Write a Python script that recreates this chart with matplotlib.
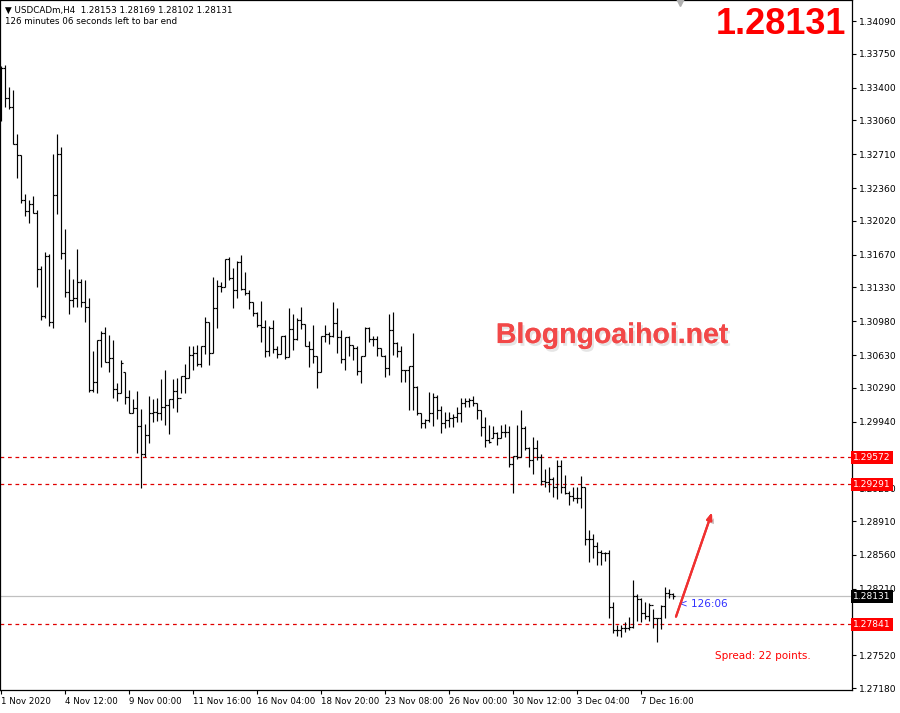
import matplotlib
matplotlib.use("Agg")
import matplotlib.pyplot as plt
import matplotlib.patheffects as pe
import numpy as np

# H4 bars of USDCADm, 1 Nov 2020 - 8 Dec 2020
open_ = [1.3312, 1.3360, 1.3329, 1.3320, 1.3282, 1.3270, 1.3224, 1.3212, 1.3219, 1.3210,
         1.3152, 1.3103, 1.3166, 1.3097, 1.3229, 1.3271, 1.3169, 1.3128, 1.3120, 1.3122,
         1.3139, 1.3118, 1.3113, 1.3027, 1.3035, 1.3079, 1.3086, 1.3056, 1.3060, 1.3028,
         1.3024, 1.3045, 1.3020, 1.3003, 1.3008, 1.2990, 1.2961, 1.2980, 1.3003, 1.3004,
         1.3003, 1.3009, 1.3011, 1.3017, 1.3026, 1.3018, 1.3041, 1.3039, 1.3063, 1.3065,
         1.3054, 1.3072, 1.3097, 1.3065, 1.3112, 1.3135, 1.3133, 1.3162, 1.3143, 1.3130,
         1.3159, 1.3131, 1.3127, 1.3118, 1.3107, 1.3094, 1.3092, 1.3067, 1.3091, 1.3069,
         1.3064, 1.3083, 1.3061, 1.3090, 1.3080, 1.3099, 1.3095, 1.3072, 1.3069, 1.3062,
         1.3045, 1.3083, 1.3085, 1.3083, 1.3096, 1.3082, 1.3059, 1.3082, 1.3073, 1.3070,
         1.3046, 1.3062, 1.3091, 1.3080, 1.3080, 1.3070, 1.3062, 1.3050, 1.3089, 1.3075,
         1.3067, 1.3047, 1.3047, 1.3052, 1.3030, 1.3003, 1.2993, 1.2996, 1.3003, 1.3020,
         1.3006, 1.2993, 1.2996, 1.2998, 1.2999, 1.3003, 1.3013, 1.3015, 1.3016, 1.3013,
         1.3006, 1.2988, 1.2975, 1.2977, 1.2982, 1.2977, 1.2983, 1.2983, 1.2950, 1.2958,
         1.2957, 1.2987, 1.2967, 1.2954, 1.2967, 1.2957, 1.2932, 1.2931, 1.2935, 1.2926,
         1.2948, 1.2926, 1.2920, 1.2917, 1.2915, 1.2915, 1.2926, 1.2872, 1.2872, 1.2865,
         1.2859, 1.2858, 1.2858, 1.2802, 1.2778, 1.2778, 1.2780, 1.2780, 1.2781, 1.2813,
         1.2810, 1.2796, 1.2793, 1.2804, 1.2791, 1.2791, 1.2803, 1.2817, 1.28153]

high = [1.3362, 1.3363, 1.3341, 1.3338, 1.3292, 1.3270, 1.3230, 1.3224, 1.3228, 1.3213,
        1.3155, 1.3170, 1.3168, 1.3271, 1.3292, 1.3278, 1.3194, 1.3152, 1.3142, 1.3173,
        1.3142, 1.3141, 1.3122, 1.3067, 1.3079, 1.3088, 1.3092, 1.3084, 1.3079, 1.3034,
        1.3058, 1.3045, 1.3027, 1.3017, 1.3026, 1.3007, 1.2992, 1.3021, 1.3017, 1.3018,
        1.3038, 1.3047, 1.3017, 1.3038, 1.3039, 1.3041, 1.3054, 1.3072, 1.3072, 1.3073,
        1.3072, 1.3102, 1.3097, 1.3144, 1.3141, 1.3139, 1.3163, 1.3165, 1.3153, 1.3160,
        1.3167, 1.3149, 1.3130, 1.3118, 1.3108, 1.3119, 1.3099, 1.3093, 1.3099, 1.3072,
        1.3083, 1.3084, 1.3112, 1.3106, 1.3101, 1.3113, 1.3095, 1.3078, 1.3094, 1.3062,
        1.3083, 1.3094, 1.3087, 1.3118, 1.3112, 1.3089, 1.3082, 1.3083, 1.3073, 1.3072,
        1.3062, 1.3092, 1.3092, 1.3083, 1.3083, 1.3070, 1.3063, 1.3105, 1.3108, 1.3076,
        1.3072, 1.3048, 1.3052, 1.3086, 1.3031, 1.3003, 1.2997, 1.3025, 1.3024, 1.3022,
        1.3010, 1.3004, 1.3004, 1.3002, 1.3009, 1.3019, 1.3018, 1.3018, 1.3021, 1.3013,
        1.3006, 1.2999, 1.2991, 1.2990, 1.2983, 1.2991, 1.2992, 1.2989, 1.2958, 1.2991,
        1.3006, 1.2989, 1.2968, 1.2978, 1.2975, 1.2960, 1.2945, 1.2947, 1.2937, 1.2954,
        1.2954, 1.2939, 1.2922, 1.2926, 1.2926, 1.2938, 1.2926, 1.2882, 1.2878, 1.2869,
        1.2861, 1.2859, 1.2861, 1.2807, 1.2783, 1.2783, 1.2786, 1.2792, 1.2830, 1.2815,
        1.2811, 1.2807, 1.2806, 1.2800, 1.2791, 1.2804, 1.2823, 1.2821, 1.28169]

low = [1.3305, 1.3320, 1.3318, 1.3282, 1.3246, 1.3221, 1.3207, 1.3200, 1.3210, 1.3133,
       1.3099, 1.3101, 1.3093, 1.3091, 1.3209, 1.3163, 1.3123, 1.3105, 1.3113, 1.3113,
       1.3113, 1.3097, 1.3025, 1.3025, 1.3024, 1.3051, 1.3056, 1.3045, 1.3018, 1.3015,
       1.3024, 1.3012, 1.3003, 1.3003, 1.2962, 1.2925, 1.2957, 1.2972, 1.2994, 1.2995,
       1.2996, 1.2991, 1.2981, 1.3008, 1.3004, 1.3024, 1.3024, 1.3039, 1.3047, 1.3052,
       1.3051, 1.3064, 1.3053, 1.3065, 1.3091, 1.3128, 1.3133, 1.3141, 1.3112, 1.3122,
       1.3130, 1.3125, 1.3111, 1.3103, 1.3092, 1.3076, 1.3061, 1.3062, 1.3065, 1.3060,
       1.3064, 1.3059, 1.3061, 1.3068, 1.3079, 1.3090, 1.3072, 1.3051, 1.3055, 1.3029,
       1.3045, 1.3076, 1.3074, 1.3082, 1.3065, 1.3055, 1.3048, 1.3062, 1.3058, 1.3042,
       1.3034, 1.3062, 1.3076, 1.3072, 1.3062, 1.3062, 1.3040, 1.3042, 1.3063, 1.3061,
       1.3035, 1.3035, 1.3006, 1.3006, 1.3001, 1.2987, 1.2987, 1.2994, 1.2990, 1.2997,
       1.2982, 1.2987, 1.2988, 1.2988, 1.2994, 1.2994, 1.3009, 1.3009, 1.3010, 1.2997,
       1.2979, 1.2968, 1.2972, 1.2977, 1.2970, 1.2977, 1.2978, 1.2947, 1.2920, 1.2955,
       1.2957, 1.2965, 1.2947, 1.2940, 1.2954, 1.2928, 1.2926, 1.2921, 1.2916, 1.2914,
       1.2920, 1.2919, 1.2908, 1.2912, 1.2910, 1.2905, 1.2866, 1.2849, 1.2853, 1.2846,
       1.2845, 1.2850, 1.2791, 1.2775, 1.2772, 1.2771, 1.2776, 1.2778, 1.2780, 1.2787,
       1.2786, 1.2790, 1.2787, 1.2780, 1.2766, 1.2779, 1.2791, 1.2811, 1.28102]

close = [1.3360, 1.3329, 1.3320, 1.3282, 1.3270, 1.3224, 1.3212, 1.3219, 1.3210, 1.3152,
         1.3103, 1.3166, 1.3097, 1.3229, 1.3271, 1.3169, 1.3128, 1.3120, 1.3122, 1.3139,
         1.3118, 1.3113, 1.3027, 1.3035, 1.3079, 1.3086, 1.3056, 1.3060, 1.3028, 1.3024,
         1.3055, 1.3020, 1.3003, 1.3008, 1.2990, 1.2961, 1.2980, 1.3003, 1.3004, 1.3003,
         1.3009, 1.3011, 1.3017, 1.3026, 1.3018, 1.3041, 1.3039, 1.3063, 1.3065, 1.3054,
         1.3072, 1.3097, 1.3065, 1.3112, 1.3135, 1.3133, 1.3162, 1.3143, 1.3130, 1.3159,
         1.3131, 1.3127, 1.3118, 1.3107, 1.3094, 1.3092, 1.3067, 1.3091, 1.3069, 1.3064,
         1.3083, 1.3061, 1.3090, 1.3080, 1.3099, 1.3095, 1.3072, 1.3069, 1.3062, 1.3045,
         1.3083, 1.3085, 1.3083, 1.3096, 1.3082, 1.3059, 1.3082, 1.3073, 1.3070, 1.3046,
         1.3062, 1.3091, 1.3080, 1.3080, 1.3070, 1.3062, 1.3050, 1.3089, 1.3075, 1.3067,
         1.3047, 1.3047, 1.3052, 1.3030, 1.3003, 1.2993, 1.2996, 1.3003, 1.3020, 1.3006,
         1.2993, 1.2996, 1.2998, 1.2999, 1.3003, 1.3013, 1.3015, 1.3016, 1.3013, 1.3006,
         1.2988, 1.2975, 1.2973, 1.2982, 1.2977, 1.2983, 1.2983, 1.2950, 1.2958, 1.2957,
         1.2987, 1.2967, 1.2954, 1.2967, 1.2957, 1.2932, 1.2931, 1.2935, 1.2926, 1.2948,
         1.2926, 1.2920, 1.2917, 1.2915, 1.2915, 1.2926, 1.2872, 1.2872, 1.2865, 1.2859,
         1.2858, 1.2858, 1.2802, 1.2778, 1.2778, 1.2780, 1.2780, 1.2781, 1.2813, 1.2810,
         1.2796, 1.2793, 1.2804, 1.2791, 1.2791, 1.2803, 1.2817, 1.2815, 1.28131]

time_tick_bars = [0, 16, 32, 48, 64, 80, 96, 112, 128, 144, 160]
time_labels = ["1 Nov 2020", "4 Nov 12:00", "9 Nov 00:00", "11 Nov 16:00", "16 Nov 04:00",
               "18 Nov 20:00", "23 Nov 08:00", "26 Nov 00:00", "30 Nov 12:00",
               "3 Dec 04:00", "7 Dec 16:00"]
price_ticks = [1.34090, 1.33750, 1.33400, 1.33060, 1.32710, 1.32360, 1.32020, 1.31670,
               1.31330, 1.30980, 1.30630, 1.30290, 1.29940, 1.29250, 1.28910, 1.28560,
               1.28210, 1.27520, 1.27180]
red_levels = [1.29572, 1.29291, 1.27841]
bid = 1.28131

W, H = 900, 713
fig = plt.figure(figsize=(W / 100, H / 100), dpi=100)
fig.patch.set_facecolor("white")
ax = fig.add_axes([0.0 / W, (H - 690) / H, 852 / W, 690 / H])

x = np.arange(len(close))
lw = 0.85
ax.vlines(x, low, high, color="black", lw=lw)
ax.hlines(open_, x - 0.55, x, color="black", lw=lw)
ax.hlines(close, x, x + 0.55, color="black", lw=lw)

# horizontal levels
for lvl in red_levels:
    ax.axhline(lvl, color="#e00000", lw=0.9, ls=(0, (3, 3)), zorder=1)
ax.axhline(bid, color="#c0c0c0", lw=0.9, zorder=0.5)

ax.set_xlim(-0.25, 212.75)
ax.set_ylim(1.27160, 1.34308)

for s in ax.spines.values():
    s.set_color("black")
    s.set_linewidth(0.9)

ax.yaxis.tick_right()
ax.set_yticks(price_ticks)
ax.set_yticklabels([f"{p:.5f}" for p in price_ticks])
ax.set_xticks(time_tick_bars)
ax.set_xticklabels(time_labels)
ax.tick_params(axis="both", direction="out", length=3, width=0.8, labelsize=6.6,
               colors="black", pad=2)
ax.tick_params(axis="x", labelsize=6.2)
for t in ax.get_xticklabels():
    t.set_horizontalalignment("left")

# price tags on the right
def price_tag(val, bg):
    ax.text(1.0015, val, f"{val:.5f}", transform=ax.get_yaxis_transform(),
            ha="left", va="center", fontsize=6.6, color="white", zorder=10,
            clip_on=False,
            bbox=dict(boxstyle="square,pad=0.22", fc=bg, ec="none"))

for lvl in red_levels:
    price_tag(lvl, "#ff0000")
price_tag(bid, "black")

# header texts
fig.text(5 / W, 1 - 10 / H, "\u25bc USDCADm,H4  1.28153 1.28169 1.28102 1.28131",
         fontsize=6.3, va="center", ha="left", color="black")
fig.text(5 / W, 1 - 22 / H, "126 minutes 06 seconds left to bar end",
         fontsize=6.3, va="center", ha="left", color="black")
fig.text(846 / W, 1 - 25 / H, "1.28131", fontsize=26, fontweight="bold",
         family="Liberation Sans", color="#ff0000", ha="right", va="center")

# watermark
ax.text(0.582, 0.513, "Blogngoaihoi.net", transform=ax.transAxes, fontsize=20.5,
        fontweight="bold", family="Liberation Sans", color="#f24848", ha="left",
        va="center", zorder=6,
        path_effects=[pe.withSimplePatchShadow(offset=(1.5, -2), shadow_rgbFace="#999999",
                                               alpha=0.25), pe.Normal()])

# red arrow
ax.annotate("", xy=(177.75, 1.2900), xytext=(168.75, 1.2792),
            arrowprops=dict(arrowstyle="-|>,head_length=0.4,head_width=0.15",
                            color="#f03030", lw=1.6, shrinkA=0, shrinkB=0,
                            path_effects=[pe.withSimplePatchShadow(offset=(2, -2), alpha=0.3),
                                          pe.Normal()]),
            zorder=7)

# bar countdown and spread
ax.text(169.5, bid - 0.0008, "< 126:06", fontsize=7.5, color="#3030ff",
        ha="left", va="center")
ax.text(178.5, 1.2751, "Spread: 22 points.", fontsize=7.5, color="#ff0000",
        ha="left", va="center")

# grey shift marker at the top
ax.plot([169.75], [1.34290], marker="v", ms=6, color="#b0b0b0", clip_on=False, zorder=8)

fig.savefig("out.png", dpi=100, facecolor="white")
